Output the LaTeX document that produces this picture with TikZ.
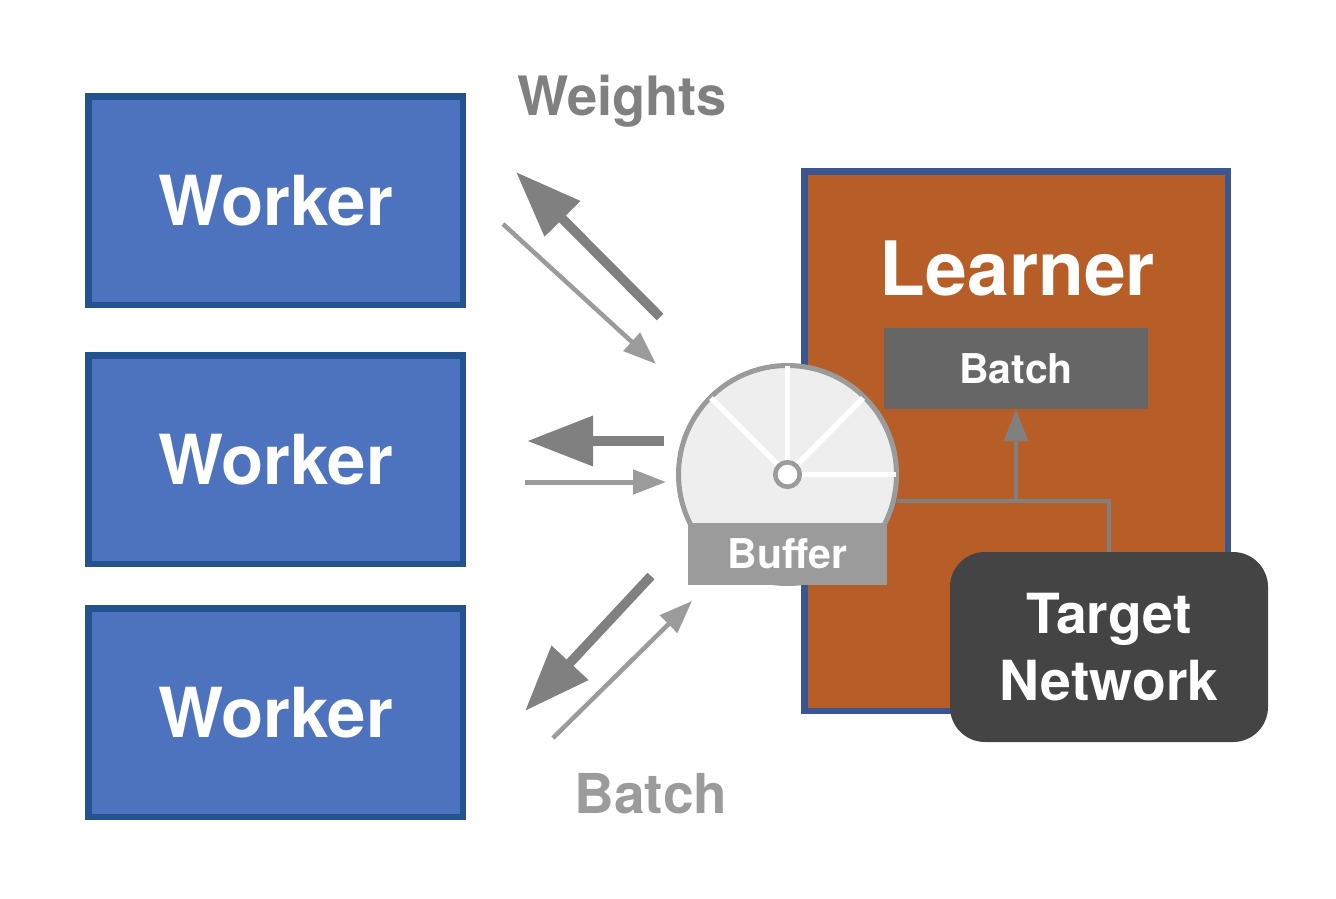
\documentclass[tikz,border=0pt]{standalone}
\usepackage{fontspec}
\setmainfont{TeX Gyre Heros}
\usetikzlibrary{arrows.meta}
\definecolor{workerfill}{HTML}{4E73BE}
\definecolor{workerline}{HTML}{23538F}
\definecolor{learnfill}{HTML}{B75E28}
\definecolor{learnline}{HTML}{3A5590}
\definecolor{ggA}{HTML}{808080}
\definecolor{ggB}{HTML}{9B9B9B}
\definecolor{ggC}{HTML}{666666}
\definecolor{ggD}{HTML}{444444}
\definecolor{ggE}{HTML}{EEEEEE}
\tikzset{
  x=1pt,y=-1pt,
  txt/.style={font=\bfseries\fontsize{#1}{#1}\selectfont},
  workerbox/.style={draw=workerline,fill=workerfill,line width=6.5pt,minimum width=374.5pt,minimum height=208.5pt,inner sep=0pt,text=white},
  workerlabel/.style={inner sep=0pt,text=white,txt=69},
  bigarrow/.style={draw=ggA,line width=9.5pt,-{Triangle[length=66pt,width=48pt]}},
  bigflat/.style={draw=ggA,line width=10pt,-{Triangle[length=66pt,width=48pt]}},
  thinarrow/.style={draw=ggB,line width=4.5pt,-{Triangle[length=33pt,width=24pt]}},
  spoke/.style={draw=white,line width=5.5pt},
  link/.style={draw=ggA,line width=4.3pt},
  plain/.style={inner sep=0pt},
}
\begin{document}
\begin{tikzpicture}
\useasboundingbox (0,0) rectangle (1336,898);
\node[workerbox,txt=69] (w1) at (275.5,200.5) {\raisebox{-1.5pt}{Worker}};
\node[workerbox,txt=69] (w2) at (275.5,459.5) {\raisebox{-1.5pt}{Worker}};
\node[workerbox,txt=69] (w3) at (275.5,712.5) {\raisebox{-1.5pt}{Worker}};
\node[draw=learnline,fill=learnfill,line width=6.5pt,minimum width=423.5pt,minimum height=539.5pt,inner sep=0pt] (learner) at (1016,441) {};
\node[plain,text=white,txt=75] (learnertext) at (1017.5,268) {Learner};
\node[fill=ggC,text=white,txt=41,minimum width=264pt,minimum height=81pt,inner sep=0pt] (batchin) at (1016,368.5) {Batch};
\coordinate (ringE) at (897,501);
\coordinate (junc) at (1016,501);
\node[fill=ggD,text=white,rounded corners=35pt,minimum width=318pt,minimum height=190pt,inner sep=0pt,align=center,font=\bfseries\fontsize{55.3}{66.5}\selectfont] (target) at (1109,647) {Target\\Network};
\draw[link] (target.north) |- (ringE);
\draw[draw=ggA,line width=4.3pt,-{Triangle[length=32pt,width=23.5pt]}] (junc) -- (batchin.south);
\node[circle,draw=ggB,fill=ggE,line width=5pt,minimum size=218pt,inner sep=0pt] (ring) at (787.5,474.5) {};
\node[plain] (hubpos) at (787.5,474.5) {};
\coordinate (s1) at (711,398);
\coordinate (s2) at (787.5,366);
\coordinate (s3) at (863,398);
\coordinate (s4) at (896,474.5);
\draw[spoke] (hubpos) -- (s1);
\draw[spoke] (hubpos) -- (s2);
\draw[spoke] (hubpos) -- (s3);
\draw[spoke] (hubpos) -- (s4);
\node[circle,draw=ggB,fill=white,line width=4.6pt,minimum size=24.5pt,inner sep=0pt] (hub) at (787.5,474.5) {};
\node[fill=ggB,text=white,txt=41,minimum width=199pt,minimum height=62pt,inner sep=0pt] (buffer) at (787.5,554) {Buffer};
\node[plain,text=ggA,txt=54.3] (weights) at (622,101) {Weights};
\node[plain,text=ggB,txt=55] (batchout) at (651,794) {Batch};
\coordinate (a1s) at (660,317); \coordinate (a1e) at (516,172);
\coordinate (a2s) at (503,224); \coordinate (a2e) at (656,364);
\coordinate (a3s) at (664,441); \coordinate (a3e) at (527,441);
\coordinate (a4s) at (525,482); \coordinate (a4e) at (666,482);
\coordinate (a5s) at (651,576); \coordinate (a5e) at (525,711);
\coordinate (a6s) at (553,738); \coordinate (a6e) at (692,601);
\draw[bigarrow] (a1s) -- (a1e);
\draw[thinarrow] (a2s) -- (a2e);
\draw[bigflat] (a3s) -- (a3e);
\draw[thinarrow,line width=5pt] (a4s) -- (a4e);
\draw[bigarrow] (a5s) -- (a5e);
\draw[thinarrow] (a6s) -- (a6e);
\end{tikzpicture}
\end{document}
